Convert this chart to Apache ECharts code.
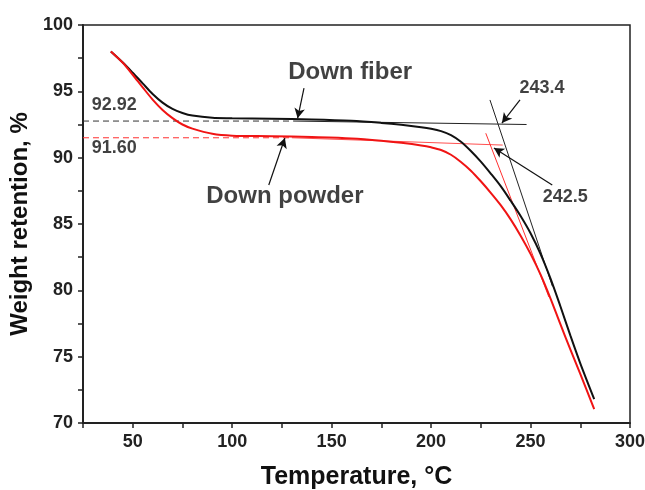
<!DOCTYPE html>
<html>
<head>
<meta charset="utf-8">
<script src="https://cdn.jsdelivr.net/npm/echarts@6/dist/echarts.min.js"></script>
<style>
html, body { margin: 0; padding: 0; background: #fff; }
#main { width: 645px; height: 490px; }
</style>
</head>
<body>
<div id="main"></div>
<script>
// TGA curves (temperature, weight retention %)
var temps = [39, 45, 50, 55, 60, 65, 70, 75, 80, 90,
    100, 120, 140, 160, 175, 185, 195, 200, 205, 210,
    215, 220, 225, 230, 235, 240, 245, 250, 255, 260,
    265, 270, 275, 282];
var downFiber = [98.0, 97.17, 96.4, 95.6, 94.8, 94.15, 93.67, 93.37, 93.17, 93.0,
    92.97, 92.93, 92.88, 92.78, 92.62, 92.48, 92.3, 92.18, 92.0, 91.7,
    91.2, 90.5, 89.7, 88.8, 87.85, 86.75, 85.6, 84.3, 82.75, 80.9,
    78.8, 76.6, 74.5, 71.8];
var downPowder = [98.0, 97.15, 96.25, 95.3, 94.38, 93.6, 92.98, 92.5, 92.19, 91.8,
    91.66, 91.62, 91.55, 91.45, 91.28, 91.12, 90.92, 90.78, 90.58, 90.22,
    89.68, 89.02, 88.22, 87.35, 86.42, 85.35, 84.12, 82.75, 81.2, 79.4,
    77.45, 75.55, 73.7, 71.05];

// tangent constructions
var fiberBaseDash = [[25, 92.76], [131, 92.76]];
var fiberBaseTan = [[131, 92.76], [248, 92.5]];
var fiberOnsetTan = [[229.6, 94.35], [261, 80.3]];
var powderBaseDash = [[25, 91.5], [130, 91.5]];
var powderBaseTan = [[130, 91.5], [236, 90.95]];
var powderOnsetTan = [[227.5, 91.84], [259.2, 79.5]];

// annotations
var nameTexts = ['Down fiber', 'Down powder'];
var nameAt = [[159.3, 96.46], [126.5, 87.1]];
var valueTexts = ['92.92', '91.60', '243.4', '242.5'];
var valueAt = [[40.7, 93.97], [40.7, 90.73], [255.8, 95.25], [267.4, 87.04]];
var arrows = [
    [[136.1, 95.25], [132.9, 92.97]],
    [[118.4, 87.94], [126.5, 91.48]],
    [[244.7, 94.35], [235.6, 92.61]],
    [[260.9, 87.94], [231.6, 90.73]]
];

var xTicks = { min: 25, max: 300, step: 25, labelStep: 50 };
var yTicks = { min: 70, max: 100, step: 2.5, labelStep: 5 };

var FONT = '"Liberation Sans", Arial, sans-serif';

function pairs(xs, ys) {
    return xs.map(function (x, i) { return [x, ys[i]]; });
}

function thinLine(data, color, dashed) {
    return {
        type: 'line',
        data: data,
        showSymbol: false,
        silent: true,
        z: 3,
        lineStyle: { color: color, width: 1, type: dashed ? [6, 4] : 'solid' }
    };
}

function axisCommon(t) {
    return {
        type: 'value',
        min: t.min,
        max: t.max,
        interval: t.step,
        axisLine: { show: true, onZero: false, lineStyle: { color: '#222', width: 2 } },
        axisTick: { show: true, inside: false, length: 5, lineStyle: { color: '#222', width: 1.5 } },
        splitLine: { show: false },
        axisLabel: {
            color: '#222',
            fontSize: 18,
            fontWeight: 'bold',
            fontFamily: FONT,
            formatter: function (v) {
                return Math.abs(v / t.labelStep - Math.round(v / t.labelStep)) < 1e-6 ? String(v) : '';
            }
        },
        nameTextStyle: { color: '#111', fontSize: 25, fontWeight: 'bold', fontFamily: FONT }
    };
}

var xAxis = axisCommon(xTicks);
xAxis.name = 'Temperature, \u00B0C';
xAxis.nameLocation = 'middle';
xAxis.nameGap = 42;
xAxis.axisLabel.margin = 10;

var yAxis = axisCommon(yTicks);
yAxis.name = 'Weight retention, %';
yAxis.nameLocation = 'middle';
yAxis.nameGap = 42;
yAxis.nameTextStyle.fontSize = 24;
yAxis.axisLabel.margin = 10;

var arrowLines = {
    type: 'line',
    data: [],
    markLine: {
        silent: true,
        animation: false,
        symbol: ['none', 'arrow'],
        symbolSize: [8, 10],
        label: { show: false },
        lineStyle: { color: '#111', width: 1.2, type: 'solid' },
        data: arrows.map(function (a) {
            return [{ coord: a[0] }, { coord: a[1] }];
        })
    }
};

function textSeries(at, texts, size) {
    return {
        type: 'scatter',
        symbolSize: 0,
        silent: true,
        z: 6,
        data: at.map(function (p, i) { return { value: p, name: texts[i] }; }),
        label: {
            show: true, position: 'inside', formatter: '{b}',
            color: '#111', textBorderWidth: 0, fontSize: size, fontWeight: 'bold', fontFamily: FONT
        }
    };
}

function curve(name, values, color) {
    return {
        name: name,
        type: 'line',
        data: pairs(temps, values),
        showSymbol: false,
        smooth: 0.3,
        z: 4,
        lineStyle: { color: color, width: 2 }
    };
}

var option = {
    animation: false,
    backgroundColor: '#fff',
    grid: {
        left: 83, right: 15, top: 25, bottom: 67,
        outerBoundsMode: 'none',
        containLabel: false,
        show: true, borderColor: '#222', borderWidth: 1.5
    },
    xAxis: xAxis,
    yAxis: yAxis,
    series: [
        thinLine(fiberBaseDash, '#333', true),
        thinLine(fiberBaseTan, '#222', false),
        thinLine(fiberOnsetTan, '#222', false),
        thinLine(powderBaseDash, '#ff3030', true),
        thinLine(powderBaseTan, '#ff5050', false),
        thinLine(powderOnsetTan, '#ff3030', false),
        curve('Down fiber', downFiber, '#111'),
        curve('Down powder', downPowder, '#f01414'),
        arrowLines,
        textSeries(nameAt, nameTexts, 24),
        textSeries(valueAt, valueTexts, 18)
    ]
};

var chart = echarts.init(document.getElementById('main'));
chart.setOption(option);
</script>
</body>
</html>
